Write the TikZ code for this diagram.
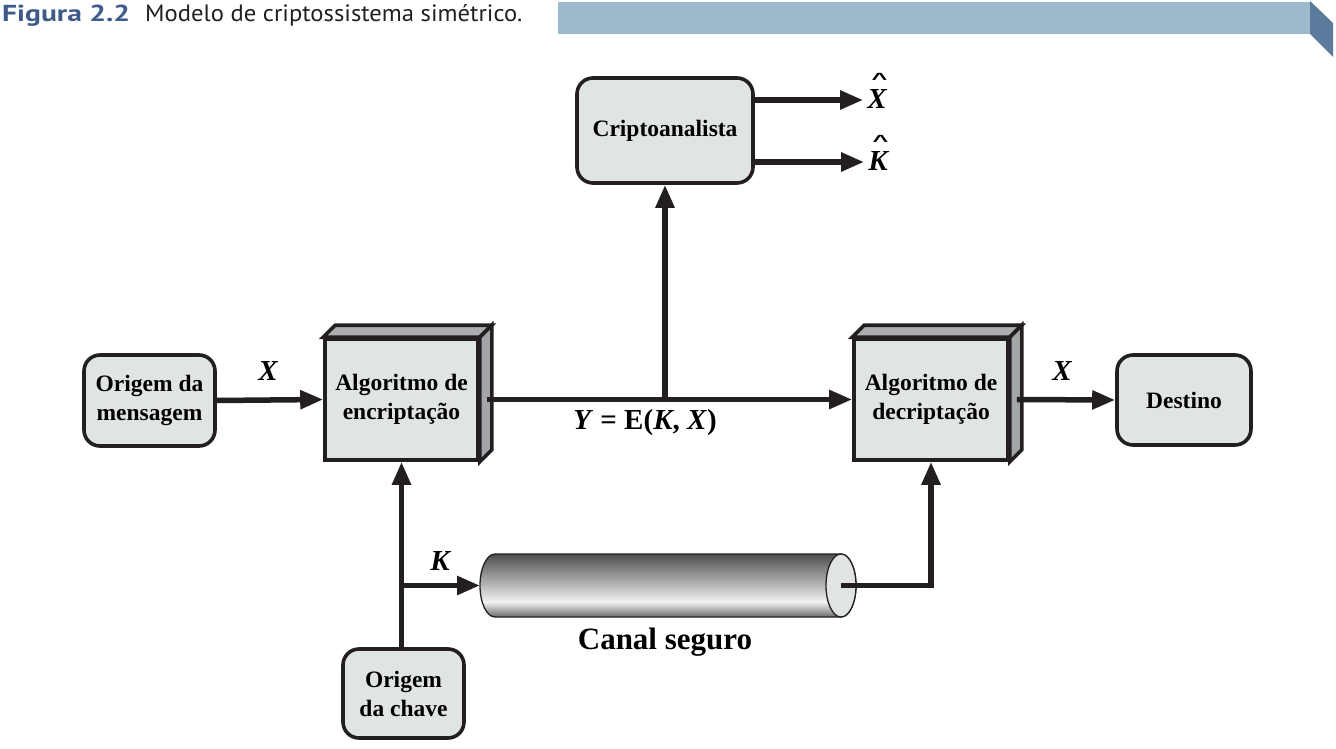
\documentclass[tikz,border=0pt]{standalone}
\usepackage{fontspec}
\setmainfont{Liberation Serif}
\newfontfamily\hdrfont{PT Sans}
\newfontfamily\hatfont{Liberation Sans}
\usetikzlibrary{arrows.meta,calc}
\definecolor{boxfill}{HTML}{E1E4E5}
\definecolor{sidefill}{HTML}{A3A5A8}
\definecolor{topfill}{HTML}{ACAEB1}
\definecolor{linecol}{HTML}{231F20}
\definecolor{bannerlight}{HTML}{9EBACD}
\definecolor{bannerdark}{HTML}{5A7B9C}
\definecolor{figblue}{HTML}{3E5A8A}
\definecolor{cA}{HTML}{6A6A6A}
\definecolor{cB}{HTML}{F2F2F2}
\definecolor{cC}{HTML}{A4A4A4}
\definecolor{cD}{HTML}{4E4E4E}
\pgfdeclareverticalshading{cylshade}{100bp}{color(0bp)=(cA); color(25bp)=(cA); color(37bp)=(cB); color(55bp)=(cC); color(75bp)=(cD); color(100bp)=(cD)}
\newcommand\hatted[1]{\ooalign{#1\cr\hidewidth\kern5pt\raisebox{24.5pt}{\hatfont\upshape\bfseries\fontsize{27}{27}\selectfont\scalebox{1}[0.6]{\textasciicircum}}\hidewidth\cr}}
\tikzset{
  nodefont/.style={font=\fontsize{23.5}{29}\selectfont\bfseries},
  rbox/.style={draw=linecol, line width=3.6pt, fill=boxfill, rounded corners=16pt, align=center, nodefont, inner sep=0pt},
  frontbox/.style={draw=linecol, line width=3.6pt, fill=boxfill, align=center, nodefont, inner sep=0pt, minimum width=153pt, minimum height=121pt},
  face/.style={draw=linecol, line width=3.6pt, line join=miter},
  arr/.style={draw=linecol, line width=5.5pt, -{Triangle[length=23pt,width=18pt]}},
  lbl/.style={font=\fontsize{29}{32}\selectfont\bfseries\itshape, inner sep=0pt}
}
\begin{document}
\begin{tikzpicture}[x=1pt,y=-1pt]
\useasboundingbox (0,0) rectangle (1336,749);
% header
\fill[bannerlight] (558,2) rectangle (1310,34);
\fill[bannerdark] (1310,1) -- (1333,23) -- (1333,57) -- (1310,34) -- cycle;
\node[anchor=base west, inner sep=0pt, text=figblue] (fig) at (2,22) {\resizebox{128pt}{16.5pt}{\hdrfont\bfseries Figura 2.2}};
\node[anchor=base west, inner sep=0pt, text=linecol] (cap) at (145,22) {\resizebox{377pt}{17pt}{\hdrfont Modelo de criptossistema simétrico.}};

% nodes
\node[rbox, minimum width=131pt, minimum height=91pt] (msg) at (149.5,400.5) {Origem da\\mensagem};
\node[frontbox] (enc) at (401.5,399.5) {Algoritmo de\\encriptação};
\node[frontbox, minimum width=154pt] (dec) at (931,399.5) {Algoritmo de\\decriptação};
\node[rbox, minimum width=134pt, minimum height=90pt] (dest) at (1184,400) {Destino};
\node[rbox, minimum width=176pt, minimum height=105pt] (crypt) at (665,130.5) {Criptoanalista};
\node[rbox, minimum width=121pt, minimum height=89pt] (key) at (403.5,693.5) {Origem\\da chave};

% 3D faces
\foreach \b in {enc,dec}{
  \filldraw[face, fill=topfill] (\b.north west) -- ++(12,-12) -- ($(\b.north east)+(12,-12)$) -- (\b.north east) -- cycle;
  \filldraw[face, fill=sidefill] (\b.north east) -- ++(12,-12) -- ($(\b.south east)+(12,-12)$) -- (\b.south east) -- cycle;
}

% secure channel cylinder
\coordinate (cylL) at (480,585.5);
\coordinate (cylR) at (841,585.5);
\shade[shading=cylshade] (495,554) arc[start angle=270, end angle=90, x radius=15, y radius=31.5] -- (841,617) arc[start angle=90, end angle=-90, x radius=15, y radius=31.5] -- cycle;
\draw[line width=1.3pt, draw=linecol] (495,554) arc[start angle=270, end angle=90, x radius=15, y radius=31.5] -- (841,617) arc[start angle=90, end angle=-90, x radius=15, y radius=31.5] -- cycle;
\filldraw[line width=1.3pt, draw=linecol, fill=boxfill] (cylR) ellipse[x radius=15, y radius=31.5];
\node[font=\fontsize{31}{36}\selectfont\bfseries, inner sep=0pt] (canal) at (665,642) {Canal seguro};

% connectors
\draw[arr] (msg.east) -- (enc.west);
\draw[arr] ($(enc.east)+(7,0)$) -- (dec.west);
\draw[arr] ($(dec.east)+(7,0)$) -- (dest.west);
\draw[arr] (crypt.south |- enc.east) -- (crypt.south);
\draw[arr] (enc.south |- key.north) -- (enc.south);
\draw[arr] (enc.south |- cylL) -- (cylL);
\draw[arr] (cylR) -| (dec.south);

% labels
\node[lbl] (lx1) at (268,371) {X};
\node[lbl] (lx2) at (1062,371) {X};
\node[lbl] (lk) at (440,561) {K};
\node[font=\fontsize{29}{32}\selectfont\bfseries, inner sep=0pt] (ylbl) at (645,423) {\textit{Y} = E(\textit{K}, \textit{X})};

% cryptanalyst outputs
\node[lbl, anchor=base] (xh) at (877,109) {\hatted{X}};
\node[lbl, anchor=base] (kh) at (878,171) {\hatted{K}};
\draw[arr] (crypt.east |- 0,100) -- ($(xh.base west)+(-4,-9)$);
\draw[arr] (crypt.east |- 0,162) -- ($(kh.base west)+(-4,-9)$);
\end{tikzpicture}
\end{document}
